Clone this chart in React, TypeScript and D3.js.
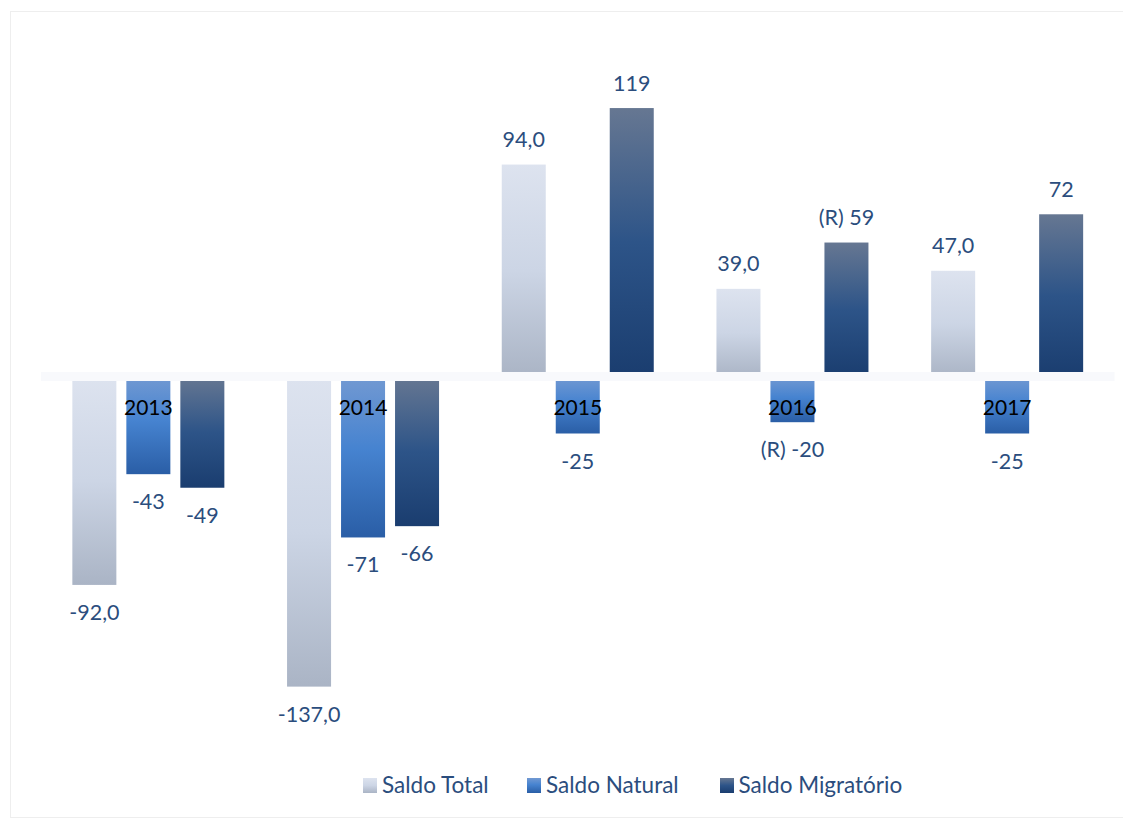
import React from "react";
import * as d3 from "d3";

const years = ["2013", "2014", "2015", "2016", "2017"];
const seriesNames = ["Saldo Total", "Saldo Natural", "Saldo Migratório"];
const saldoTotal = [-92, -137, 94, 39, 47];
const saldoNatural = [-43, -71, -25, -20, -25];
const saldoMigratorio = [-49, -66, 119, 59.5, 72];
const labelsTotal = ["-92,0", "-137,0", "94,0", "39,0", "47,0"];
const labelsNatural = ["-43", "-71", "-25", "(R) -20", "-25"];
const labelsMigratorio = ["-49", "-66", "119", "(R) 59", "72"];

const W = 1123;
const H = 818;
const FONT = "Lato, 'Open Sans', sans-serif";
const LABEL_COLOR = "#2b4d7d";

const gradients = [
  { id: "gTotal", stops: [["0%", "#dde3ef"], ["50%", "#ccd5e5"], ["100%", "#aab4c5"]] },
  { id: "gNatural", stops: [["0%", "#7299d2"], ["45%", "#4683d0"], ["100%", "#2a5ea6"]] },
  { id: "gMigr", stops: [["0%", "#667792"], ["50%", "#2d5488"], ["100%", "#1a3d6f"]] },
];

export default function App() {
  const values = [saldoTotal, saldoNatural, saldoMigratorio];
  const labels = [labelsTotal, labelsNatural, labelsMigratorio];

  const x0 = d3.scaleBand<string>().domain(years).range([41, 1114.5]).padding(0);
  const groupW = 152;
  const x1 = d3
    .scaleBand<number>()
    .domain([0, 1, 2])
    .range([-groupW / 2, groupW / 2])
    .paddingInner(0.185)
    .paddingOuter(0);
  const y = d3.scaleLinear().domain([-160, 140]).range([377 + 160 * 2.26, 377 - 140 * 2.26]);
  const y0 = y(0);

  const legendX = [363, 527, 720];
  const legendTextX = [382, 546, 738.5];

  return (
    <svg
      width={W}
      height={H}
      style={{ position: "absolute", left: 0, top: 0, background: "#fff" }}
      fontFamily={FONT}
    >
      <defs>
        {gradients.map((g) => (
          <linearGradient key={g.id} id={g.id} x1="0" y1="0" x2="0" y2="1">
            {g.stops.map(([o, c]) => (
              <stop key={o} offset={o} stopColor={c} />
            ))}
          </linearGradient>
        ))}
      </defs>
      <rect x={10.5} y={11.5} width={W} height={806} fill="#fff" stroke="#eeeeee" strokeWidth={1} />

      {years.map((yr, i) => {
        const cx = (x0(yr) as number) + x0.bandwidth() / 2;
        return (
          <g key={yr}>
            {values.map((arr, s) => {
              const v = arr[i];
              const bx = cx + (x1(s) as number);
              const top = Math.min(y(v), y0);
              const h = Math.abs(y(v) - y0);
              return (
                <rect
                  key={s}
                  x={bx}
                  y={top}
                  width={x1.bandwidth()}
                  height={h}
                  fill={`url(#${gradients[s].id})`}
                />
              );
            })}
          </g>
        );
      })}

      <line x1={41} x2={1114.5} y1={y0 - 0.5} y2={y0 - 0.5} stroke="#f8f9fc" strokeWidth={9} />

      {years.map((yr, i) => {
        const cx = (x0(yr) as number) + x0.bandwidth() / 2;
        return (
          <g key={"l" + yr}>
            {values.map((arr, s) => {
              const v = arr[i];
              const bx = cx + (x1(s) as number) + x1.bandwidth() / 2;
              const ly = v >= 0 ? y(v) - 17.5 : y(v) + 35;
              return (
                <text
                  key={s}
                  x={bx}
                  y={ly}
                  textAnchor="middle"
                  fontSize={21.5}
                  fill={LABEL_COLOR}
                >
                  {labels[s][i]}
                </text>
              );
            })}
            <text x={cx} y={415} textAnchor="middle" fontSize={21} fill="#000">
              {yr}
            </text>
          </g>
        );
      })}

      {seriesNames.map((n, s) => (
        <g key={n}>
          <rect x={legendX[s]} y={778} width={14} height={15} fill={`url(#${gradients[s].id})`} />
          <text x={legendTextX[s]} y={792.5} fontSize={22.5} fill={LABEL_COLOR}>
            {n}
          </text>
        </g>
      ))}
    </svg>
  );
}
